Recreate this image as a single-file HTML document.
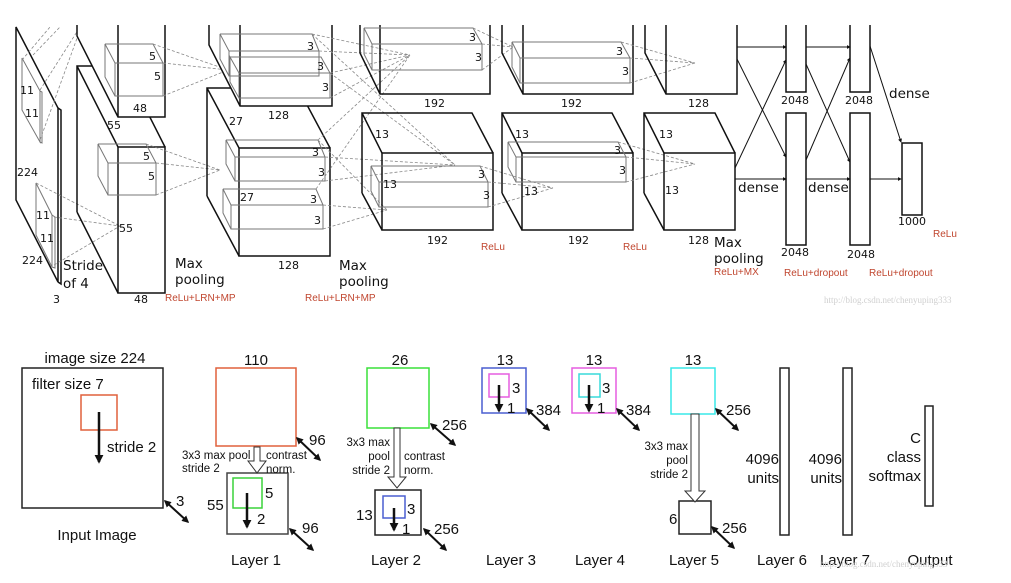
<!DOCTYPE html>
<html><head><meta charset="utf-8"><style>
html,body{margin:0;padding:0;background:#fff;}
svg{display:block;}
.t{font-family:"DejaVu Sans","Liberation Sans",sans-serif;font-size:11px;fill:#111;}
.m{font-family:"DejaVu Sans","Liberation Sans",sans-serif;font-size:13.5px;fill:#111;}
.r{font-family:"Liberation Sans",sans-serif;font-size:10px;fill:#c0462f;}
.b{font-family:"Liberation Sans",sans-serif;font-size:15px;fill:#111;}
.s{font-family:"Liberation Sans",sans-serif;font-size:11.5px;fill:#111;}
.k{fill:none;stroke:#111;stroke-width:1.5;}
.g{fill:none;stroke:#777;stroke-width:1;}
.d{fill:none;stroke:#888;stroke-width:0.8;stroke-dasharray:3,2;}
.w{fill:#fff;stroke:none;}
</style></head><body>
<svg width="1011" height="583" viewBox="0 0 1011 583" xmlns="http://www.w3.org/2000/svg">
<defs>
<marker id="ah" viewBox="0 0 10 10" refX="8" refY="5" markerWidth="3.6" markerHeight="3.6" orient="auto-start-reverse"><path d="M0,0 L10,5 L0,10 z" fill="#111"/></marker>
<marker id="bh" viewBox="0 0 10 10" refX="8" refY="5" markerWidth="4" markerHeight="4" orient="auto-start-reverse"><path d="M0,0 L10,5 L0,10 z" fill="#111"/></marker>
</defs>

<!-- ===== TOP: input slab ===== -->
<polygon class="k" points="16,27 58,108 58,282 16,200"/>
<path class="k" d="M58,108 L61,110 L61,284 L58,282"/>
<polygon class="g" points="22,58 40,91 40,142 22,110"/>
<path class="g" d="M40,91 L42,92 L42,143 L40,142"/>
<polygon class="g" points="36,183 52,215 52,267 36,235"/>
<path class="g" d="M52,215 L55,217 L55,268 L52,267"/>
<text class="t" x="20" y="94">11</text><text class="t" x="25" y="117">11</text>
<text class="t" x="36" y="219">11</text><text class="t" x="40" y="242">11</text>
<text class="t" x="17" y="176">224</text><text class="t" x="22" y="264">224</text>
<text class="t" x="53" y="303">3</text>
<text class="m" x="63" y="270">Stride</text><text class="m" x="63" y="288">of 4</text>
<path class="d" d="M33,55 L60,27 M40,90 L80,27 M40,140 L80,30 M22,60 L50,27 M36,183 L120,226 M54,217 L120,226 M54,265 L120,226"/>

<!-- layer 1 -->
<path class="k" d="M77,212 L77,66 L124,66 L165,147 M77,66 L118,147 M77,212 L118,293"/>
<rect class="k" x="118" y="147" width="47" height="146"/>
<polygon class="w" points="77,25 77,36 118,117 165,117 165,25"/>
<path class="k" d="M77,25 L77,36 L118,117 L165,117 L165,25 M118,25 L118,117"/>
<path class="g" d="M105,44 L153,44 L163,63 M105,44 L115,63 L115,96 L105,77 Z"/>
<rect class="g" x="115" y="63" width="48" height="33"/>
<path class="g" d="M98,144 L146,144 L156,163 M98,144 L108,163 L108,195 L98,176 Z"/>
<rect class="g" x="108" y="163" width="48" height="32"/>
<text class="t" x="149" y="60">5</text><text class="t" x="154" y="80">5</text>
<text class="t" x="133" y="112">48</text>
<text class="t" x="143" y="160">5</text><text class="t" x="148" y="180">5</text>
<text class="t" x="107" y="129">55</text><text class="t" x="119" y="232">55</text>
<text class="t" x="134" y="303">48</text>
<text class="m" x="175" y="268">Max</text><text class="m" x="175" y="284">pooling</text>
<text class="r" x="165" y="301">ReLu+LRN+MP</text>
<path class="d" d="M153,44 L228,70 M163,63 L228,70 M163,96 L228,70 M146,144 L220,170 M156,163 L220,170 M156,195 L220,170"/>

<!-- layer 2 -->
<path class="k" d="M207,196 L207,88 L298,88 L330,148 M207,88 L239,148 M207,196 L239,256"/>
<rect class="k" x="239" y="148" width="91" height="108"/>
<polygon class="w" points="209,25 209,45 240,106 332,106 332,25"/>
<path class="k" d="M209,25 L209,45 L240,106 L332,106 L332,25 M240,25 L240,106"/>
<path class="g" d="M220,34 L312,34 L319,51 M220,34 L229,51 L229,76 L220,59 Z"/>
<rect class="g" x="229" y="51" width="90" height="25"/>
<path class="g" d="M230,57 L321,57 L330,73 M230,57 L239,73 L239,98 L230,82 Z"/>
<rect class="g" x="239" y="73" width="91" height="25"/>
<path class="g" d="M226,140 L318,140 L325,157 M226,140 L235,157 L235,181 L226,164 Z"/>
<rect class="g" x="235" y="157" width="90" height="24"/>
<path class="g" d="M223,189 L316,189 L323,205 M223,189 L231,205 L231,229 L223,213 Z"/>
<rect class="g" x="231" y="205" width="92" height="24"/>
<text class="t" x="307" y="50">3</text><text class="t" x="317" y="70">3</text><text class="t" x="322" y="91">3</text>
<text class="t" x="268" y="119">128</text>
<text class="t" x="229" y="125">27</text><text class="t" x="240" y="201">27</text>
<text class="t" x="312" y="156">3</text><text class="t" x="318" y="176">3</text>
<text class="t" x="310" y="203">3</text><text class="t" x="314" y="224">3</text>
<text class="t" x="278" y="269">128</text>
<text class="m" x="339" y="270">Max</text><text class="m" x="339" y="286">pooling</text>
<text class="r" x="305" y="301">ReLu+LRN+MP</text>
<path class="d" d="M312,34 L410,55 M319,51 L410,55 M330,73 L410,55 M330,98 L410,55 M312,34 L455,165 M330,73 L455,165 M318,140 L410,55 M325,157 L455,165 M325,181 L455,165 M316,189 L410,55 M323,205 L387,210 M323,229 L387,210 M318,140 L387,210"/>

<!-- layer 3 -->
<path class="k" d="M362,193 L362,113 L472,113 L493,153 M362,113 L382,153 M362,193 L382,230"/>
<rect class="k" x="382" y="153" width="111" height="77"/>
<path class="k" d="M360,25 L360,53 L380,94 L490,94 L490,25 M380,25 L380,94"/>
<path class="g" d="M364,28 L473,28 L482,44 M364,28 L372,44 L372,70 L364,54 Z"/>
<rect class="g" x="372" y="44" width="110" height="26"/>
<path class="g" d="M371,166 L480,166 L488,182 M371,166 L379,182 L379,207 L371,191 Z"/>
<rect class="g" x="379" y="182" width="109" height="25"/>
<text class="t" x="469" y="41">3</text><text class="t" x="475" y="61">3</text>
<text class="t" x="424" y="107">192</text>
<text class="t" x="375" y="138">13</text>
<text class="t" x="478" y="178">3</text><text class="t" x="483" y="199">3</text><text class="t" x="383" y="188">13</text>
<text class="t" x="427" y="244">192</text>
<text class="r" x="481" y="250">ReLu</text>
<path class="d" d="M473,28 L513,47 M482,44 L513,47 M482,70 L513,47 M480,166 L553,188 M488,182 L553,188 M488,207 L553,188"/>

<!-- layer 4 -->
<path class="k" d="M502,193 L502,113 L612,113 L633,153 M502,113 L522,153 M502,193 L522,230"/>
<rect class="k" x="522" y="153" width="111" height="77"/>
<path class="k" d="M502,25 L502,53 L523,94 L633,94 L633,25 M523,25 L523,94"/>
<path class="g" d="M512,42 L621,42 L630,58 M512,42 L520,58 L520,83 L512,67 Z"/>
<rect class="g" x="520" y="58" width="110" height="25"/>
<path class="g" d="M508,142 L618,142 L626,157 M508,142 L516,157 L516,182 L508,167 Z"/>
<rect class="g" x="516" y="157" width="110" height="25"/>
<text class="t" x="616" y="55">3</text><text class="t" x="622" y="75">3</text>
<text class="t" x="561" y="107">192</text>
<text class="t" x="515" y="138">13</text>
<text class="t" x="614" y="154">3</text><text class="t" x="619" y="174">3</text><text class="t" x="524" y="195">13</text>
<text class="t" x="568" y="244">192</text>
<text class="r" x="623" y="250">ReLu</text>
<path class="d" d="M621,42 L695,63 M630,58 L695,63 M630,83 L695,63 M618,142 L695,164 M626,157 L695,164 M626,182 L695,164"/>

<!-- layer 5 -->
<path class="k" d="M644,193 L644,113 L715,113 L735,153 M644,113 L664,153 M644,193 L664,230"/>
<rect class="k" x="664" y="153" width="71" height="77"/>
<path class="k" d="M645,25 L645,53 L666,94 L737,94 L737,25 M666,25 L666,94"/>
<text class="t" x="688" y="107">128</text>
<text class="t" x="659" y="138">13</text><text class="t" x="665" y="194">13</text>
<text class="t" x="688" y="244">128</text>
<text class="m" x="714" y="247">Max</text><text class="m" x="714" y="263">pooling</text>
<text class="r" x="714" y="275">ReLu+MX</text>

<!-- dense -->
<rect class="k" x="786" y="20" width="20" height="72"/>
<rect class="k" x="786" y="113" width="20" height="132"/>
<rect class="k" x="850" y="20" width="20" height="72"/>
<rect class="k" x="850" y="113" width="20" height="132"/>
<rect class="k" x="902" y="143" width="20" height="72"/>
<rect class="w" x="770" y="0" width="120" height="25"/>
<g stroke="#111" stroke-width="1" fill="none" marker-end="url(#bh)">
<line x1="737" y1="47" x2="786" y2="47"/>
<line x1="735" y1="179" x2="786" y2="179"/>
<line x1="737" y1="59" x2="786" y2="157"/>
<line x1="735" y1="168" x2="786" y2="60"/>
<line x1="806" y1="47" x2="850" y2="47"/>
<line x1="806" y1="179" x2="850" y2="179"/>
<line x1="806" y1="64" x2="850" y2="162"/>
<line x1="806" y1="160" x2="850" y2="58"/>
<line x1="870" y1="46" x2="901" y2="142"/>
<line x1="870" y1="179" x2="901" y2="179"/>
</g>
<text class="t" x="781" y="104">2048</text><text class="t" x="845" y="104">2048</text>
<text class="t" x="781" y="256">2048</text><text class="t" x="847" y="258">2048</text>
<text class="t" x="898" y="225">1000</text>
<text class="m" x="738" y="192">dense</text><text class="m" x="808" y="192">dense</text><text class="m" x="889" y="98">dense</text>
<text class="r" x="933" y="237">ReLu</text>
<text class="r" x="784" y="276">ReLu+dropout</text><text class="r" x="869" y="276">ReLu+dropout</text>
<text x="824" y="303" style="font-family:'Liberation Serif',serif;font-size:9px;fill:#d0d0d0;">http://blog.csdn.net/chenyuping333</text>

<!-- ===== BOTTOM ===== -->
<g stroke-width="1.5" fill="none">
<rect x="22" y="368" width="141" height="140" stroke="#222"/>
<rect x="81" y="395" width="36" height="35" stroke="#e0603c"/>
<rect x="216" y="368" width="80" height="78" stroke="#e0603c"/>
<rect x="227" y="473" width="61" height="61" stroke="#444"/>
<rect x="233" y="478" width="29" height="30" stroke="#3ad23a"/>
<rect x="367" y="368" width="62" height="60" stroke="#3ae03a"/>
<rect x="375" y="490" width="46" height="45" stroke="#222"/>
<rect x="383" y="496" width="22" height="22" stroke="#4a5fd0"/>
<rect x="482" y="368" width="44" height="45" stroke="#4a5fd0"/>
<rect x="489" y="374" width="20" height="23" stroke="#e65ee0"/>
<rect x="572" y="368" width="44" height="45" stroke="#e65ee0"/>
<rect x="579" y="374" width="21" height="23" stroke="#38dada"/>
<rect x="671" y="368" width="44" height="46" stroke="#38e8e8"/>
<rect x="679" y="501" width="32" height="33" stroke="#222"/>
<rect x="780" y="368" width="9" height="167" stroke="#222"/>
<rect x="843" y="368" width="9" height="167" stroke="#222"/>
<rect x="925" y="406" width="8" height="100" stroke="#222"/>
</g>
<!-- hollow arrows -->
<g fill="#fff" stroke="#333" stroke-width="1">
<path d="M254,447 L260,447 L260,461 L266,461 L257,473 L248,461 L254,461 Z"/>
<path d="M394,428 L400,428 L400,477 L406,477 L397,488 L388,477 L394,477 Z"/>
<path d="M691,414 L699,414 L699,491 L705,491 L695,502 L685,491 L691,491 Z"/>
</g>
<!-- thick down arrows -->
<g stroke="#111" stroke-width="2.5" marker-end="url(#ah)">
<line x1="99" y1="412" x2="99" y2="462"/>
<line x1="247" y1="493" x2="247" y2="527"/>
<line x1="394" y1="508" x2="394" y2="530"/>
<line x1="499" y1="385" x2="499" y2="411"/>
<line x1="589" y1="385" x2="589" y2="411"/>
</g>
<!-- double arrows -->
<g stroke="#111" stroke-width="2" marker-start="url(#ah)" marker-end="url(#ah)">
<line x1="165" y1="501" x2="188" y2="522"/>
<line x1="297" y1="438" x2="320" y2="460"/>
<line x1="290" y1="529" x2="313" y2="550"/>
<line x1="431" y1="424" x2="455" y2="445"/>
<line x1="424" y1="529" x2="446" y2="550"/>
<line x1="527" y1="409" x2="549" y2="430"/>
<line x1="617" y1="409" x2="639" y2="430"/>
<line x1="716" y1="409" x2="738" y2="430"/>
<line x1="712" y1="527" x2="734" y2="548"/>
</g>
<text class="b" x="95" y="363" text-anchor="middle">image size 224</text>
<text class="b" x="32" y="389">filter size 7</text>
<text class="b" x="107" y="452">stride 2</text>
<text class="b" x="176" y="506">3</text>
<text class="b" x="97" y="540" text-anchor="middle">Input Image</text>

<text class="b" x="256" y="365" text-anchor="middle">110</text>
<text class="s" x="182" y="459">3x3 max pool</text><text class="s" x="182" y="472">stride 2</text>
<text class="s" x="266" y="459">contrast</text><text class="s" x="266" y="473">norm.</text>
<text class="b" x="309" y="445">96</text>
<text class="b" x="265" y="498">5</text><text class="b" x="257" y="524">2</text>
<text class="b" x="207" y="510">55</text>
<text class="b" x="302" y="533">96</text>
<text class="b" x="256" y="565" text-anchor="middle">Layer 1</text>

<text class="b" x="400" y="365" text-anchor="middle">26</text>
<text class="s" x="390" y="446" text-anchor="end">3x3 max</text>
<text class="s" x="390" y="460" text-anchor="end">pool</text>
<text class="s" x="390" y="474" text-anchor="end">stride 2</text>
<text class="s" x="404" y="460">contrast</text><text class="s" x="404" y="474">norm.</text>
<text class="b" x="442" y="430">256</text>
<text class="b" x="407" y="514">3</text><text class="b" x="402" y="534">1</text>
<text class="b" x="356" y="520">13</text>
<text class="b" x="434" y="534">256</text>
<text class="b" x="396" y="565" text-anchor="middle">Layer 2</text>

<text class="b" x="505" y="365" text-anchor="middle">13</text>
<text class="b" x="512" y="393">3</text><text class="b" x="507" y="413">1</text>
<text class="b" x="536" y="415">384</text>
<text class="b" x="511" y="565" text-anchor="middle">Layer 3</text>

<text class="b" x="594" y="365" text-anchor="middle">13</text>
<text class="b" x="602" y="393">3</text><text class="b" x="597" y="413">1</text>
<text class="b" x="626" y="415">384</text>
<text class="b" x="600" y="565" text-anchor="middle">Layer 4</text>

<text class="b" x="693" y="365" text-anchor="middle">13</text>
<text class="s" x="688" y="450" text-anchor="end">3x3 max</text>
<text class="s" x="688" y="464" text-anchor="end">pool</text>
<text class="s" x="688" y="478" text-anchor="end">stride 2</text>
<text class="b" x="726" y="415">256</text>
<text class="b" x="669" y="524">6</text>
<text class="b" x="722" y="533">256</text>
<text class="b" x="694" y="565" text-anchor="middle">Layer 5</text>

<text class="b" x="779" y="464" text-anchor="end">4096</text>
<text class="b" x="779" y="483" text-anchor="end">units</text>
<text class="b" x="782" y="565" text-anchor="middle">Layer 6</text>
<text class="b" x="842" y="464" text-anchor="end">4096</text>
<text class="b" x="842" y="483" text-anchor="end">units</text>
<text class="b" x="845" y="565" text-anchor="middle">Layer 7</text>
<text class="b" x="921" y="443" text-anchor="end">C</text>
<text class="b" x="921" y="462" text-anchor="end">class</text>
<text class="b" x="921" y="481" text-anchor="end">softmax</text>
<text class="b" x="930" y="565" text-anchor="middle">Output</text>
<text x="820" y="567" style="font-family:'Liberation Serif',serif;font-size:9px;fill:#d0d0d0;">http://blog.csdn.net/chenyuping333</text>
</svg>
</body></html>
